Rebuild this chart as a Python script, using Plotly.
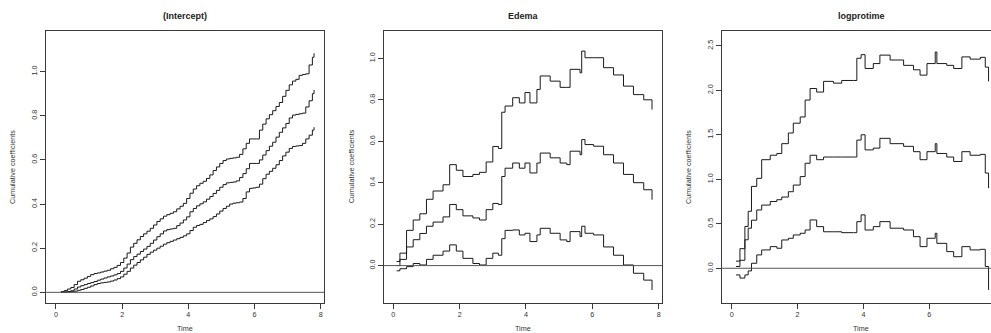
import plotly.graph_objects as go

# ---------------- data ----------------
# Panel 1: (Intercept)
t1 = [0.15, 0.25, 0.35, 0.45, 0.55, 0.65, 0.75, 0.85, 0.95, 1.05, 1.15, 1.25, 1.35, 1.45, 1.55, 1.65, 1.75, 1.85, 1.95, 2.05,
      2.15, 2.25, 2.35, 2.45, 2.55, 2.65, 2.75, 2.85, 2.95, 3.05, 3.15, 3.25, 3.35, 3.45, 3.55, 3.65, 3.75, 3.85, 3.95, 4.05,
      4.15, 4.25, 4.35, 4.45, 4.55, 4.65, 4.75, 4.85, 4.95, 5.05, 5.15, 5.25, 5.35, 5.45, 5.55, 5.65, 5.75, 5.85, 5.95, 6.05,
      6.15, 6.25, 6.35, 6.45, 6.55, 6.65, 6.75, 6.85, 6.95, 7.05, 7.15, 7.25, 7.35, 7.45, 7.55, 7.65, 7.75, 7.8]
int_upper = [0.003, 0.008, 0.015, 0.022, 0.035, 0.05, 0.057, 0.064, 0.072, 0.08, 0.085, 0.088, 0.092, 0.096, 0.1, 0.107, 0.113, 0.122, 0.135, 0.155,
             0.178, 0.205, 0.222, 0.238, 0.253, 0.265, 0.277, 0.29, 0.305, 0.321, 0.333, 0.345, 0.352, 0.358, 0.365, 0.378, 0.39, 0.403, 0.425, 0.449,
             0.468, 0.483, 0.494, 0.503, 0.516, 0.532, 0.552, 0.568, 0.584, 0.597, 0.604, 0.607, 0.609, 0.612, 0.625, 0.65, 0.675, 0.695, 0.695, 0.695,
             0.735, 0.762, 0.786, 0.805, 0.823, 0.842, 0.86, 0.888, 0.915, 0.94, 0.957, 0.965, 0.983, 0.987, 0.99, 1.03, 1.065, 1.083]
int_est = [0.0, 0.002, 0.004, 0.007, 0.015, 0.024, 0.03, 0.035, 0.04, 0.044, 0.049, 0.055, 0.06, 0.065, 0.07, 0.074, 0.079, 0.085, 0.095, 0.11,
           0.128, 0.148, 0.162, 0.173, 0.185, 0.196, 0.208, 0.222, 0.237, 0.252, 0.265, 0.278, 0.284, 0.287, 0.29, 0.302, 0.314, 0.328, 0.342, 0.365,
           0.38, 0.392, 0.401, 0.41, 0.422, 0.434, 0.448, 0.462, 0.476, 0.488, 0.496, 0.498, 0.5, 0.505, 0.52, 0.538, 0.56, 0.584, 0.584, 0.584,
           0.6, 0.622, 0.642, 0.662, 0.68, 0.703, 0.725, 0.745, 0.765, 0.79, 0.803, 0.806, 0.809, 0.812, 0.84, 0.868, 0.9, 0.917]
int_lower = [0.0, 0.0, 0.001, 0.003, 0.005, 0.009, 0.013, 0.018, 0.023, 0.029, 0.035, 0.04, 0.043, 0.045, 0.047, 0.051, 0.056, 0.062, 0.07, 0.082,
             0.095, 0.11, 0.123, 0.135, 0.147, 0.159, 0.172, 0.182, 0.191, 0.2, 0.209, 0.218, 0.225, 0.231, 0.237, 0.243, 0.249, 0.256, 0.265, 0.28,
             0.295, 0.303, 0.308, 0.316, 0.325, 0.333, 0.343, 0.355, 0.368, 0.38, 0.39, 0.4, 0.404, 0.406, 0.409, 0.425, 0.455, 0.471, 0.473, 0.476,
             0.49, 0.515, 0.535, 0.548, 0.562, 0.578, 0.597, 0.618, 0.635, 0.652, 0.661, 0.663, 0.665, 0.675, 0.695, 0.712, 0.735, 0.748]

# Panel 2: Edema
t2 = [0.1, 0.2, 0.4, 0.6, 0.8, 1.0, 1.2, 1.5, 1.7, 1.9, 2.1, 2.4, 2.6, 2.8, 3.0, 3.17, 3.27, 3.37, 3.6, 3.8,
      3.97, 4.12, 4.33, 4.43, 4.73, 5.03, 5.23, 5.33, 5.63, 5.68, 5.78, 6.04, 6.34, 6.64, 6.94, 7.24, 7.55, 7.8]
ede_upper = [0.02, 0.06, 0.17, 0.22, 0.25, 0.32, 0.36, 0.39, 0.487, 0.46, 0.43, 0.44, 0.45, 0.50, 0.575, 0.565, 0.74, 0.77, 0.81, 0.785,
             0.835, 0.785, 0.85, 0.915, 0.89, 0.86, 0.86, 0.947, 0.93, 1.035, 1.003, 1.003, 0.955, 0.92, 0.866, 0.825, 0.80, 0.753]
ede_est = [0.0, 0.03, 0.09, 0.125, 0.155, 0.19, 0.21, 0.235, 0.295, 0.27, 0.24, 0.23, 0.22, 0.27, 0.30, 0.295, 0.43, 0.47, 0.495, 0.47,
           0.495, 0.447, 0.495, 0.543, 0.52, 0.495, 0.487, 0.552, 0.535, 0.608, 0.584, 0.576, 0.535, 0.495, 0.44, 0.40, 0.366, 0.318]
ede_lower = [-0.025, -0.015, -0.005, 0.01, 0.003, 0.03, 0.05, 0.07, 0.10, 0.07, 0.035, 0.01, 0.003, 0.035, 0.06, 0.05, 0.13, 0.17, 0.172, 0.148,
             0.156, 0.116, 0.148, 0.18, 0.156, 0.124, 0.116, 0.164, 0.14, 0.19, 0.156, 0.148, 0.09, 0.05, 0.003, -0.037, -0.07, -0.118]

# Panel 3: logprotime
t3 = [0.13, 0.25, 0.4, 0.5, 0.6, 0.76, 0.91, 1.17, 1.37, 1.52, 1.72, 1.87, 2.08, 2.23, 2.38, 2.58, 2.79, 3.09, 3.34, 3.7,
      3.8, 3.93, 4.05, 4.3, 4.5, 4.81, 5.22, 5.52, 5.72, 5.93, 6.18, 6.23, 6.53, 6.74, 6.99, 7.24, 7.55, 7.7, 7.8]
lpt_upper = [0.08, 0.22, 0.47, 0.64, 0.92, 1.01, 1.22, 1.27, 1.29, 1.40, 1.52, 1.63, 1.70, 1.89, 2.02, 1.98, 2.10, 2.08, 2.11, 2.11,
             2.36, 2.40, 2.245, 2.30, 2.395, 2.34, 2.28, 2.23, 2.17, 2.30, 2.43, 2.30, 2.28, 2.245, 2.375, 2.35, 2.37, 2.26, 2.10]
lpt_est = [0.02, 0.09, 0.32, 0.45, 0.54, 0.655, 0.71, 0.75, 0.77, 0.80, 0.86, 0.935, 1.03, 1.18, 1.27, 1.22, 1.25, 1.25, 1.25, 1.25,
           1.44, 1.50, 1.33, 1.35, 1.46, 1.40, 1.37, 1.31, 1.22, 1.31, 1.40, 1.29, 1.25, 1.20, 1.31, 1.27, 1.28, 1.07, 0.90]
lpt_lower = [-0.075, -0.11, -0.075, -0.03, 0.056, 0.15, 0.206, 0.243, 0.225, 0.318, 0.337, 0.374, 0.393, 0.43, 0.543, 0.468, 0.41, 0.41, 0.40, 0.40,
             0.524, 0.60, 0.43, 0.468, 0.524, 0.45, 0.43, 0.355, 0.243, 0.337, 0.393, 0.28, 0.187, 0.13, 0.243, 0.206, 0.213, 0.02, -0.243]

titles = ["(Intercept)", "Edema", "logprotime"]
x_ticks = [0, 2, 4, 6, 8]
y_ticks = [[0.0, 0.2, 0.4, 0.6, 0.8, 1.0],
           [0.0, 0.2, 0.4, 0.6, 0.8, 1.0],
           [0.0, 0.5, 1.0, 1.5, 2.0, 2.5]]
y_ticklabels = [["0.0", "0.2", "0.4", "0.6", "0.8", "1.0"],
                ["0.0", "0.2", "0.4", "0.6", "0.8", "1.0"],
                ["0.0", "0.5", "1.0", "1.5", "2.0", "2.5"]]

# ---------------- figure ----------------
W, H = 991, 333
FONT = "Liberation Sans, Arial, sans-serif"
LINE = "#1a1a1a"
FRAME = "#3a3a3a"

fig = go.Figure()

panels = [(t1, [int_upper, int_est, int_lower]),
          (t2, [ede_upper, ede_est, ede_lower]),
          (t3, [lpt_upper, lpt_est, lpt_lower])]

for i, (tt, series) in enumerate(panels):
    xa = "x" if i == 0 else f"x{i+1}"
    ya = "y" if i == 0 else f"y{i+1}"
    for s in series:
        fig.add_trace(go.Scatter(x=tt, y=s, mode="lines", line=dict(color=LINE, width=1, shape="hv"),
                                 xaxis=xa, yaxis=ya, showlegend=False, hoverinfo="skip"))

# pixel geometry
x_doms_px = [(45.7, 324.3), (384.0, 662.3), (721.7, 991.0)]
y_top_px, y_bot_px = 31.0, 302.7
y_dom = [(H - y_bot_px) / H, (H - y_top_px) / H]
x_ranges = [[-0.31, 8.11], [-0.28, 8.11], [-0.304, 7.874]]
y_ranges = [[-0.047, 1.184], [-0.179, 1.132], [-0.387, 2.666]]

tickfont = dict(family=FONT, size=7.2, color="#333333")
layout = dict(width=W, height=H, margin=dict(l=0, r=0, t=0, b=0),
              paper_bgcolor="white", plot_bgcolor="white", showlegend=False)

for i in range(3):
    sx = "" if i == 0 else str(i + 1)
    dom = [x_doms_px[i][0] / W, min(1.0, x_doms_px[i][1] / W)]
    layout["xaxis" + sx] = dict(domain=dom, range=x_ranges[i], anchor="y" + sx,
                                tickvals=x_ticks, ticks="outside", ticklen=5, tickcolor=FRAME,
                                showline=True, linecolor=FRAME, linewidth=1, mirror=True,
                                showgrid=False, zeroline=False, tickfont=tickfont, fixedrange=True)
    layout["yaxis" + sx] = dict(domain=y_dom, range=y_ranges[i], anchor="x" + sx,
                                tickvals=y_ticks[i], ticktext=y_ticklabels[i], tickangle=-90,
                                ticks="outside", ticklen=5, tickcolor=FRAME,
                                showline=True, linecolor=FRAME, linewidth=1, mirror=(i < 2),
                                showgrid=False, zeroline=False, tickfont=tickfont, fixedrange=True)

fig.update_layout(**layout)

annotations = []
shapes = []
for i in range(3):
    sx = "" if i == 0 else str(i + 1)
    cx_px = (x_doms_px[i][0] + (x_doms_px[i][0] + 278.6)) / 2
    annotations.append(dict(text="<b>" + titles[i] + "</b>", x=cx_px / W, y=(H - 15.5) / H,
                            xref="paper", yref="paper", showarrow=False, xanchor="center", yanchor="middle",
                            font=dict(family=FONT, size=9, color="#222222")))
    annotations.append(dict(text="Cumulative coefficients", x=(x_doms_px[i][0] - 32.5) / W, y=sum(y_dom) / 2,
                            xref="paper", yref="paper", showarrow=False, textangle=-90,
                            xanchor="center", yanchor="middle",
                            font=dict(family=FONT, size=7.2, color="#333333")))
    annotations.append(dict(text="Time", x=cx_px / W, y=(H - 328) / H,
                            xref="paper", yref="paper", showarrow=False, xanchor="center", yanchor="middle",
                            font=dict(family=FONT, size=7.2, color="#333333")))
    shapes.append(dict(type="line", xref=("x" + sx + " domain"), yref=("y" + sx),
                       x0=0, x1=1, y0=0, y1=0, line=dict(color="#555555", width=1)))

fig.update_layout(annotations=annotations, shapes=shapes)

fig.write_html("out.html", config={"displayModeBar": False})
